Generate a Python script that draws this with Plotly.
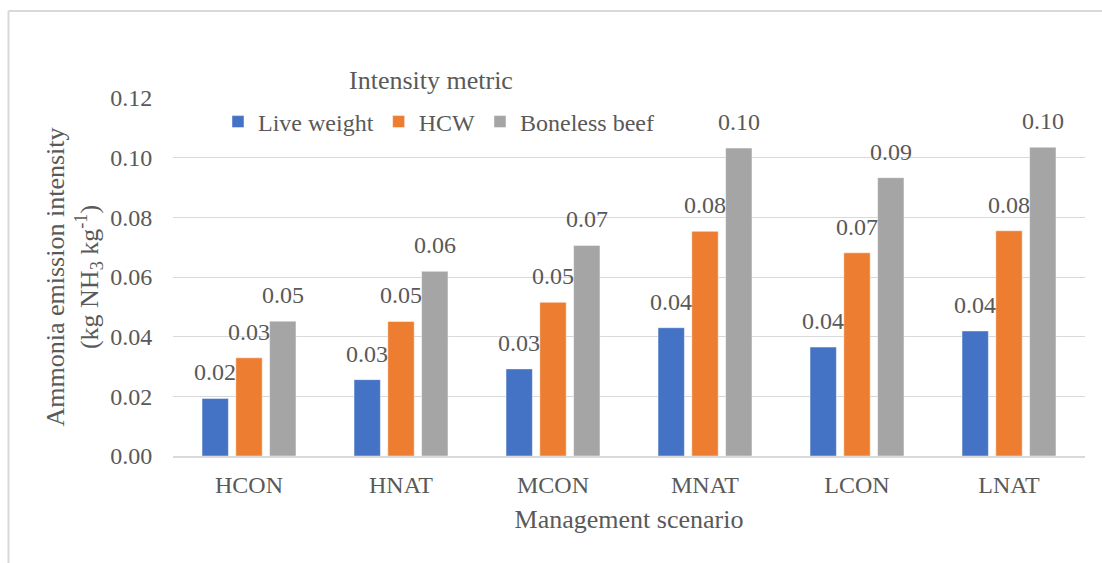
import plotly.graph_objects as go

# Ammonia emission intensity (kg NH3 per kg) by management scenario
scenarios = ["HCON", "HNAT", "MCON", "MNAT", "LCON", "LNAT"]
live_weight = [0.0193, 0.0256, 0.0292, 0.0430, 0.0365, 0.0419]
hcw = [0.0329, 0.0451, 0.0515, 0.0753, 0.0681, 0.0755]
boneless_beef = [0.0452, 0.0619, 0.0706, 0.1032, 0.0933, 0.1035]

series_names = ["Live weight", "HCW", "Boneless beef"]
series_values = [live_weight, hcw, boneless_beef]
series_colors = ["#4472C4", "#ED7D31", "#A5A5A5"]

y_tick_values = [0.00, 0.02, 0.04, 0.06, 0.08, 0.10, 0.12]

FONT = "Liberation Serif"
TEXT = "#595959"
GRID = "#D9D9D9"

W, H = 1102, 563
M_L, M_R, M_T, M_B = 173, 17, 98, 107
PLOT_W = W - M_L - M_R
PLOT_H = H - M_T - M_B
BARGAP = 0.333
BARGROUPGAP = 0.22

# width of one bar slot inside a category group, in pixels
SLOT_PX = PLOT_W / len(scenarios) * (1 - BARGAP) / len(series_names)


def px_to_paper_x(px):
    return (px - M_L) / PLOT_W


def px_to_paper_y(py):
    return (H - M_B - py) / PLOT_H


fig = go.Figure()

for name, vals, color in zip(series_names, series_values, series_colors):
    fig.add_trace(go.Bar(
        name=name,
        x=scenarios,
        y=vals,
        marker=dict(color=color, line=dict(color="rgba(255,255,255,0.45)", width=1)),
        hoverinfo="x+y+name",
    ))

# value labels above each bar, shifted to the bar's slot in its group
center = (len(series_names) - 1) / 2
for i, vals in enumerate(series_values):
    for cat, v in zip(scenarios, vals):
        fig.add_annotation(
            x=cat, y=v, xref="x", yref="y",
            text=f"{v:.2f}",
            showarrow=False,
            xanchor="center", yanchor="middle",
            xshift=(i - center) * SLOT_PX, yshift=26,
            font=dict(family=FONT, size=24, color=TEXT),
        )

# chart frame
frame = dict(type="line", xref="paper", yref="paper", line=dict(color=GRID, width=2))
fig.add_shape(frame, x0=px_to_paper_x(8.5), x1=px_to_paper_x(8.5),
              y0=px_to_paper_y(11), y1=px_to_paper_y(H + 5))
fig.add_shape(frame, x0=px_to_paper_x(8.5), x1=px_to_paper_x(W + 5),
              y0=px_to_paper_y(11), y1=px_to_paper_y(11))

fig.add_annotation(
    text="Intensity metric",
    xref="paper", yref="paper",
    x=px_to_paper_x(431), y=px_to_paper_y(80),
    xanchor="center", yanchor="middle",
    showarrow=False,
    font=dict(family=FONT, size=26, color=TEXT),
)

fig.update_layout(
    width=W, height=H,
    margin=dict(l=M_L, r=M_R, t=M_T, b=M_B, autoexpand=False),
    paper_bgcolor="white",
    plot_bgcolor="white",
    font=dict(family=FONT, size=24, color=TEXT),
    barmode="group",
    bargap=BARGAP,
    bargroupgap=BARGROUPGAP,
    showlegend=True,
    legend=dict(
        orientation="h",
        x=px_to_paper_x(218), xanchor="left",
        y=px_to_paper_y(122), yanchor="middle",
        bgcolor="rgba(0,0,0,0)",
        font=dict(family=FONT, size=24, color=TEXT),
        traceorder="normal",
    ),
    xaxis=dict(
        type="category",
        showgrid=False,
        showline=True, linecolor=GRID, linewidth=1.5,
        ticks="outside", ticklen=6, tickcolor="rgba(0,0,0,0)",
        tickfont=dict(family=FONT, size=24, color=TEXT),
        title=dict(text="Management scenario",
                   font=dict(family=FONT, size=26, color=TEXT), standoff=13),
    ),
    yaxis=dict(
        range=[0, 0.12],
        tickvals=y_tick_values,
        tickformat=".2f",
        showgrid=True, gridcolor=GRID, gridwidth=1,
        zeroline=False, showline=False,
        ticks="outside", ticklen=15, tickcolor="rgba(0,0,0,0)",
        tickfont=dict(family=FONT, size=24, color=TEXT),
        title=dict(text="Ammonia emission intensity<br>(kg NH<sub>3</sub> kg<sup>-1</sup>)",
                   font=dict(family=FONT, size=26, color=TEXT), standoff=4),
    ),
)

fig.write_html("out.html")
